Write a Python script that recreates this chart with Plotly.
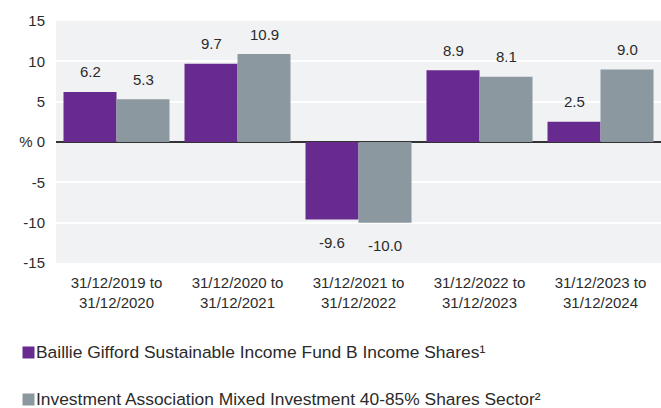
import plotly.graph_objects as go

categories = ["31/12/2019 to<br>31/12/2020", "31/12/2020 to<br>31/12/2021",
              "31/12/2021 to<br>31/12/2022", "31/12/2022 to<br>31/12/2023",
              "31/12/2023 to<br>31/12/2024"]
fund_name = "Baillie Gifford Sustainable Income Fund B Income Shares¹"
sector_name = "Investment Association Mixed Investment 40-85% Shares Sector²"
fund_values = [6.2, 9.7, -9.6, 8.9, 2.5]
sector_values = [5.3, 10.9, -10.0, 8.1, 9.0]
y_tickvals = [15, 10, 5, 0, -5, -10, -15]
y_ticktext = ["15", "10", "5", "% 0", "-5", "-10", "-15"]

PURPLE = "#672a8f"
GREY = "#8c989f"
TEXT = "#2b2b2b"
FONT = "Liberation Sans, Arial, sans-serif"

fig = go.Figure()
fig.add_trace(go.Bar(x=categories, y=fund_values, name=fund_name,
                     marker=dict(color=PURPLE, line=dict(width=0)), showlegend=False))
fig.add_trace(go.Bar(x=categories, y=sector_values, name=sector_name,
                     marker=dict(color=GREY, line=dict(width=0)), showlegend=False))

annotations = []
for series, shift in ((fund_values, -26.5), (sector_values, 26.5)):
    for c, v in zip(categories, series):
        annotations.append(dict(x=c, y=v, xref="x", yref="y", text=f"{v:.1f}",
                                showarrow=False, xshift=shift,
                                yshift=20 if v >= 0 else -23,
                                font=dict(size=15, color=TEXT, family=FONT)))

# legend built from annotations (colour square + label)
for i, (name, col) in enumerate(((fund_name, PURPLE), (sector_name, GREY))):
    ypos = 352 + i * 47
    annotations.append(dict(xref="paper", yref="paper", x=(22 - 56) / 605,
                            y=(263 - ypos) / 242, xanchor="left", yanchor="middle",
                            text=" ", width=11, height=11, bgcolor=col,
                            borderpad=0, showarrow=False))
    annotations.append(dict(xref="paper", yref="paper", x=(34 - 56) / 605,
                            y=(263 - ypos) / 242, xanchor="left", yanchor="middle",
                            text=name, showarrow=False,
                            font=dict(size=17.4, color=TEXT, family=FONT)))

fig.update_layout(
    width=661, height=408,
    margin=dict(l=56, r=0, t=21, b=145),
    paper_bgcolor="white", plot_bgcolor="#f1f2f4",
    barmode="group", bargap=0.124, bargroupgap=0,
    font=dict(family=FONT, size=15, color=TEXT),
    annotations=annotations,
    xaxis=dict(type="category", showgrid=False, showline=False, ticks="",
               zeroline=False, tickfont=dict(size=15, color=TEXT), ticklabelstandoff=9),
    xaxis2=dict(overlaying="x", anchor="free", position=0.5, type="linear",
                range=[-0.5, 4.5], tickvals=[-0.5, 0.5, 1.5, 2.5, 3.5, 4.5],
                showticklabels=False, ticks="outside", ticklen=4, tickwidth=1,
                tickcolor="#333333", showgrid=False, showline=False, zeroline=False),
    yaxis=dict(range=[-15, 15], tickvals=y_tickvals, ticktext=y_ticktext,
               showgrid=True, gridcolor="white", gridwidth=1.5,
               zeroline=True, zerolinecolor="#333333", zerolinewidth=1.5,
               ticks="", ticklabelstandoff=10, showline=False,
               tickfont=dict(size=15, color=TEXT)),
)

fig.write_html("out.html", config={"displayModeBar": False},
               post_script="document.body.style.margin='0';")
